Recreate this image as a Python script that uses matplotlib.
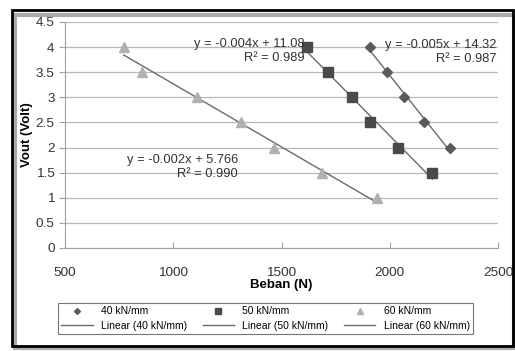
import matplotlib
matplotlib.use("Agg")
import matplotlib.pyplot as plt
import numpy as np
from matplotlib.patches import Rectangle

plt.rcParams['font.family'] = ['Liberation Sans Narrow', 'Liberation Sans', 'DejaVu Sans']

x40 = [1911, 1985, 2067, 2160, 2280]
y40 = [4.0, 3.5, 3.0, 2.5, 2.0]
x50 = [1617, 1714, 1824, 1907, 2036, 2197]
y50 = [4.0, 3.5, 3.0, 2.5, 2.0, 1.5]
x60 = [771, 854, 1111, 1314, 1466, 1686, 1939]
y60 = [4.0, 3.5, 3.0, 2.5, 2.0, 1.5, 1.0]
names = ['40 kN/mm', '50 kN/mm', '60 kN/mm']
eq_texts = ['y = -0.005x + 14.32\nR² = 0.987', 'y = -0.004x + 11.08\nR² = 0.989', 'y = -0.002x + 5.766\nR² = 0.990']
xticks = [500, 1000, 1500, 2000, 2500]
yticks = [0, 0.5, 1, 1.5, 2, 2.5, 3, 3.5, 4, 4.5]

fig = plt.figure(figsize=(5.15, 3.51), dpi=100)
fig.patch.set_facecolor('white')
# outer frame
fig.patches.append(Rectangle((15/515, 3/351), 499/515, 333/351, transform=fig.transFigure,
                             fill=False, edgecolor='#aaaaaa', linewidth=3))
fig.patches.append(Rectangle((12/515, 5/351), 501/515, 336/351, transform=fig.transFigure,
                             fill=False, edgecolor='black', linewidth=2))

ax = fig.add_axes([65/515, 1 - 248/351, 433/515, 226/351])
ax.set_xlim(500, 2500)
ax.set_ylim(0, 4.5)
ax.set_xticks(xticks)
ax.set_yticks(yticks)
ax.set_yticklabels([('%g' % v) for v in yticks])
ax.grid(axis='y', color='#b8b8b8', linewidth=0.9)
ax.set_axisbelow(True)
for s in ['top', 'right']:
    ax.spines[s].set_visible(False)
ax.spines['left'].set_color('#a0a0a0')
ax.spines['bottom'].set_color('#a0a0a0')
ax.tick_params(axis='x', direction='in', length=4, color='#a0a0a0', labelsize=9.7, pad=14, labelcolor='#333333')
ax.tick_params(axis='y', length=4, color='#a0a0a0', labelsize=9.7, labelcolor='#333333')
ax.set_xlabel('Beban (N)', fontsize=9.5, fontweight='bold', labelpad=0)
ax.set_ylabel('Vout (Volt)', fontsize=9.5, fontweight='bold', labelpad=2)

sets = [(x40, y40, 'D', '#5a5a5a', 5), (x50, y50, 's', '#4a4a4a', 7), (x60, y60, '^', '#b0b0b0', 7)]
mh, lh = [], []
for (xs, ys, m, c, ms), nm in zip(sets, names):
    xs = np.array(xs); ys = np.array(ys)
    p = np.polyfit(xs, ys, 1)
    xx = np.array([xs.min(), xs.max()])
    l, = ax.plot(xx, np.polyval(p, xx), color='#6a6a6a', linewidth=1.0, zorder=2, label='Linear (' + nm + ')')
    h, = ax.plot(xs, ys, linestyle='none', marker=m, color=c, markersize=ms, zorder=3, label=nm)
    mh.append(h); lh.append(l)

ax.text(2495, 3.9, eq_texts[0], fontsize=9.3, ha='right', va='center', color='#333333', multialignment='right', linespacing=1.2)
ax.text(1605, 3.93, eq_texts[1], fontsize=9.3, ha='right', va='center', color='#333333', multialignment='right', linespacing=1.2)
ax.text(1300, 1.62, eq_texts[2], fontsize=9.3, ha='right', va='center', color='#333333', multialignment='right', linespacing=1.2)

handles = [mh[0], lh[0], mh[1], lh[1], mh[2], lh[2]]
leg = fig.legend(handles=handles, labels=[h.get_label() for h in handles], ncol=3,
                 loc='lower left', bbox_to_anchor=(53/515, 12/351, 425/515, 41/351), mode='expand',
                 fontsize=7.5, frameon=True, fancybox=False, edgecolor='#555555', markerscale=0.6,
                 handlelength=3, borderpad=0.3, labelspacing=0.4, columnspacing=1.0)
leg.get_frame().set_linewidth(0.8)

fig.savefig('out.png', dpi=100)
